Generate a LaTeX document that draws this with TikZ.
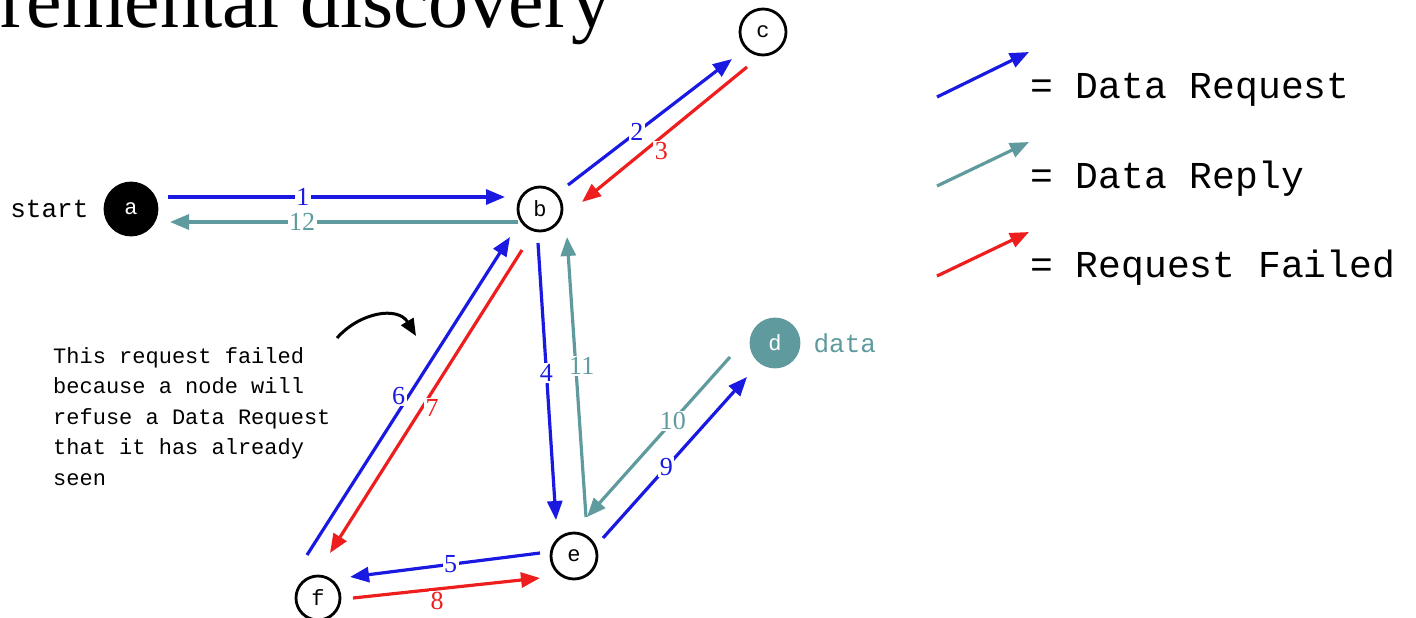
\documentclass[tikz,border=0pt]{standalone}
\usepackage{fontspec}
\setmainfont{Liberation Serif}
\setmonofont{Liberation Mono}
\usetikzlibrary{arrows.meta,positioning}
\definecolor{reqblue}{RGB}{25,25,225}
\definecolor{replyteal}{RGB}{95,155,158}
\definecolor{failred}{RGB}{238,30,30}

\begin{document}
\begin{tikzpicture}[x=1pt,y=-1pt,
	peer/.style={circle, draw, line width=2.8pt, inner sep=0pt, minimum size=44pt, font=\ttfamily\fontsize{22}{24}\selectfont},
	msg/.style={line width=3.2pt, -{Triangle[length=19pt,width=15pt]}},
	req/.style={msg, reqblue},
	reply/.style={msg, replyteal},
	fail/.style={msg, failred},
	lbl/.style={fill=white, inner sep=1.5pt, font=\fontsize{26}{28}\selectfont},
	legend/.style={anchor=base west, inner sep=0pt, font=\ttfamily\fontsize{38}{40}\selectfont}]
	\useasboundingbox (0,0) rectangle (1416,618);
	\node[anchor=base west, inner sep=0pt, font=\fontsize{80}{90}\selectfont] (title) at (0,28) {remental discovery};
	% peers
	\node[peer, fill=black, text=white, minimum size=52pt] (a) at (131,209) {a};
	\node[peer] (b) at (540,209) {b};
	\node[peer, minimum size=46pt] (c) at (763,32) {c};
	\node[peer, draw=replyteal, fill=replyteal, text=white, minimum size=48pt] (d) at (775,343) {d};
	\node[peer, minimum size=46pt] (e) at (574,556) {e};
	\node[peer] (f) at (318,598) {f};
	\node[left=15pt of a, inner sep=0pt, font=\ttfamily\fontsize{26}{28}\selectfont] (start) {start};
	\node[right=13pt of d, inner sep=0pt, replyteal, font=\ttfamily\fontsize{26}{28}\selectfont] (data) {data};
	% messages
	\draw[req] ([shift={(37,-12)}]a.center) -- ([shift={(-35,-12)}]b.center) node[lbl, pos=.40] {1};
	\draw[req] ([shift={(28,-24)}]b.center) -- ([shift={(-31,27)}]c.center) node[lbl, pos=.42] {2};
	\draw[fail] ([shift={(-16,35)}]c.center) -- ([shift={(42,-7)}]b.center) node[lbl, pos=.55, shift={(5,10)}] {3};
	\draw[req] ([shift={(-2,34)}]b.center) -- ([shift={(-18,-36)}]e.center) node[lbl, pos=.47] {4};
	\draw[req] ([shift={(-34,-3)}]e.center) -- ([shift={(32,-21)}]f.center) node[lbl, pos=.47] {5};
	\draw[req] ([shift={(-11,-43)}]f.center) -- ([shift={(-30,28)}]b.center) node[lbl, pos=.50, shift={(-10,0)}] {6};
	\draw[fail] ([shift={(-18,41)}]b.center) -- ([shift={(12,-45)}]f.center) node[lbl, pos=.52, shift={(10,0)}] {7};
	\draw[fail] ([shift={(35,0)}]f.center) -- ([shift={(-34,22)}]e.center) node[lbl, pos=.45, shift={(0,12)}] {8};
	\draw[req] ([shift={(29,-18)}]e.center) -- ([shift={(-28,34)}]d.center) node[lbl, pos=.44] {9};
	\draw[reply] ([shift={(-45,14)}]d.center) -- ([shift={(13,-39)}]e.center) node[lbl, pos=.40] {10};
	\draw[reply] ([shift={(12,-39)}]e.center) -- ([shift={(27,28)}]b.center) node[lbl, pos=.54, shift={(6,0)}] {11};
	\draw[reply] ([shift={(-22,13)}]b.center) -- ([shift={(39,13)}]a.center) node[lbl, pos=.62] {12};
	% note
	\node[anchor=north west, inner sep=0pt, align=left, font=\ttfamily\fontsize{22}{30.5}\selectfont] (note) at (53,347)
		{This request failed\\because a node will\\refuse a Data Request\\that it has already\\seen};
	\coordinate (hint) at (337,338);
	\coordinate (hinttip) at (416,336);
	\draw[line width=3pt, -{Triangle[length=17pt,width=14pt]}] (hint) .. controls (360,312) and (398,306) .. (hinttip);
	% legend
	\coordinate (reqfrom) at (937,97);    \coordinate (reqto) at (1029,52);
	\coordinate (replyfrom) at (937,186); \coordinate (replyto) at (1029,142);
	\coordinate (failfrom) at (937,276);  \coordinate (failto) at (1029,232);
	\draw[req] (reqfrom) -- (reqto);
	\draw[reply] (replyfrom) -- (replyto);
	\draw[fail] (failfrom) -- (failto);
	\node[legend] (reqtxt) at (1030,98) {= Data Request};
	\node[legend] (replytxt) at (1030,188) {= Data Reply};
	\node[legend] (failtxt) at (1030,277) {= Request Failed};
\end{tikzpicture}
\end{document}
